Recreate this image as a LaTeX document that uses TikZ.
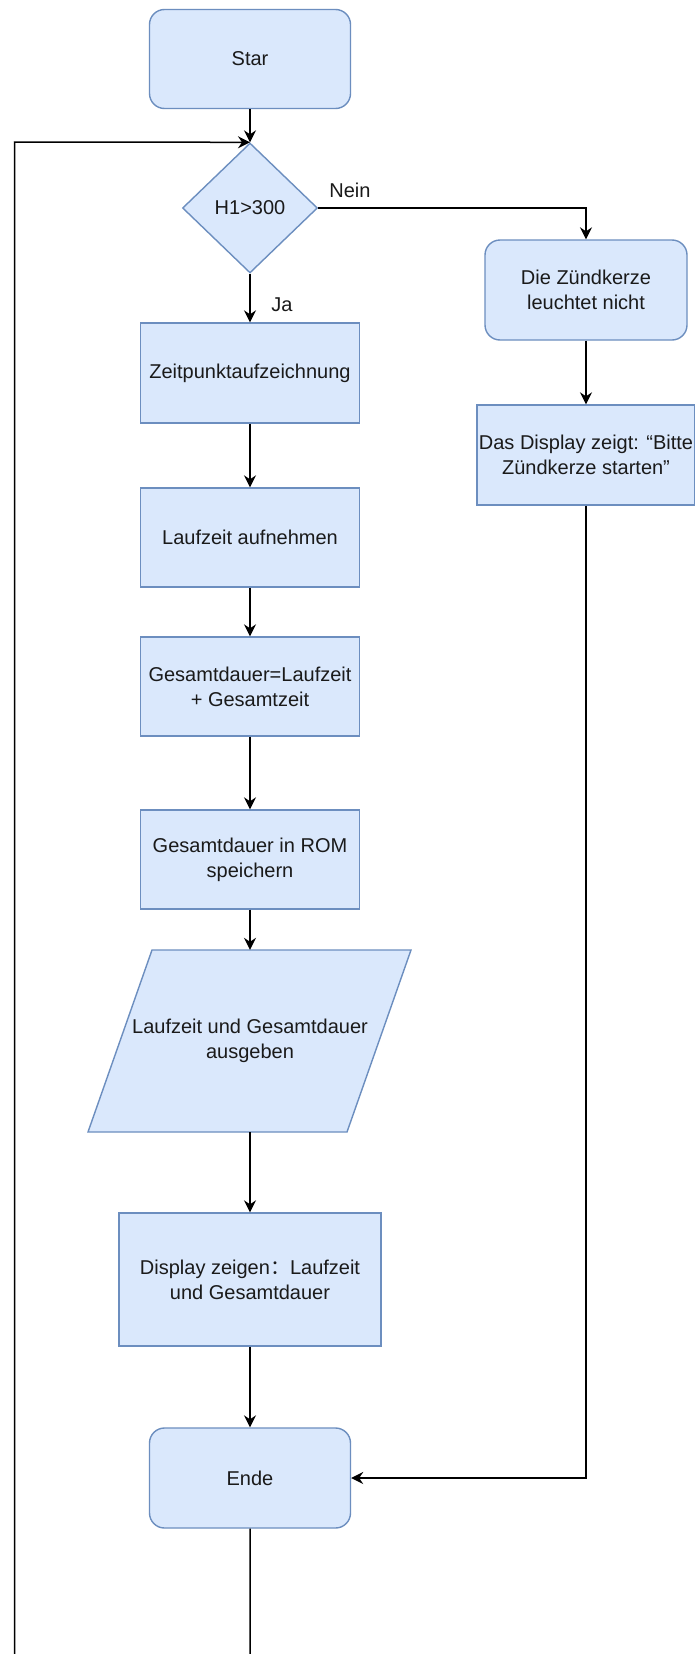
\documentclass[tikz,border=0pt]{standalone}
\usepackage{fontspec}
\setmainfont{Liberation Sans}
\newfontfamily\cjk{Noto Sans CJK SC}
\usetikzlibrary{shapes.geometric,arrows.meta}
\definecolor{fillblue}{HTML}{DAE8FC}
\definecolor{strokeblue}{HTML}{6C8EBF}
\definecolor{txt}{HTML}{1A1A1A}
\tikzset{
  base/.style={draw=strokeblue, fill=fillblue, line width=1.4pt, align=center, inner sep=0pt,
    text=txt, font=\fontsize{20}{25}\selectfont},
  box/.style={base, rectangle, minimum width=219pt, minimum height=99pt},
  rbox/.style={base, rectangle, rounded corners=15pt, minimum width=201pt, minimum height=99pt},
  dec/.style={base, diamond, minimum width=135pt, minimum height=130pt},
  conn/.style={line width=1.5pt, draw=black, -{Stealth[length=12pt,width=12pt,inset=4pt]}},
  lbl/.style={text=txt, font=\fontsize{20}{25}\selectfont, inner sep=0pt}
}
\begin{document}
\begin{tikzpicture}[x=1pt,y=-1pt]
\clip (0,0) rectangle (695,1654);
\fill[white] (0,0) rectangle (695,1654);

\node[rbox] (star) at (250,59) {Star};
\node[dec] (d) at (250,208) {H1>300};
\node[rbox, minimum width=202pt, minimum height=100pt] (zund) at (586,290) {Die Zündkerze\\leuchtet nicht};
\node[box, minimum width=218pt, minimum height=100pt] (disp1) at (586,455) {Das Display zeigt: “Bitte\\Zündkerze starten”};
\node[box, minimum height=100pt] (zeit) at (250,373) {Zeitpunktaufzeichnung};
\node[box] (lauf) at (250,537.5) {Laufzeit aufnehmen};
\node[box] (ges) at (250,686.5) {Gesamtdauer=Laufzeit\\+ Gesamtzeit};
\node[box] (rom) at (250,859.5) {Gesamtdauer in ROM\\speichern};
% parallelogram
\draw[draw=strokeblue, fill=fillblue, line width=1.4pt, line join=miter]
  (152,950) -- (411,950) -- (347,1132) -- (88,1132) -- cycle;
\node[inner sep=0pt, minimum width=259pt, minimum height=182pt, align=center, text=txt,
  font=\fontsize{20}{25}\selectfont] (out) at (250,1041) {Laufzeit und Gesamtdauer\\ausgeben};
\node[box, minimum width=262pt, minimum height=133pt] (disp2) at (250,1279.5) {Display zeigen{\cjk ：}Laufzeit\\und Gesamtdauer};
\node[rbox, minimum height=100pt] (ende) at (250,1478) {Ende};

\coordinate (lb) at (250,1665);
\coordinate (ll) at (14.6,1665);
\coordinate (lt) at (14.6,142);
\coordinate (nr) at (586,208);
\coordinate (dr) at (586,1478);

\draw[conn] (star.south) -- (d.north);
\draw[conn] (ende.south) -- (lb) -- (ll) -- (lt) -- (d.north);
\draw[conn] (d.east) -- (nr) -- (zund.north);
\node[lbl] (nein) at (350,190) {Nein};
\draw[conn] (d.south) -- (zeit.north);
\node[lbl] (ja) at (282,305) {Ja};
\draw[conn] (zund.south) -- (disp1.north);
\draw[conn] (zeit.south) -- (lauf.north);
\draw[conn] (lauf.south) -- (ges.north);
\draw[conn] (ges.south) -- (rom.north);
\draw[conn] (rom.south) -- (out.north);
\draw[conn] (out.south) -- (disp2.north);
\draw[conn] (disp2.south) -- (ende.north);
\draw[conn] (disp1.south) -- (dr) -- (ende.east);
\end{tikzpicture}
\end{document}
